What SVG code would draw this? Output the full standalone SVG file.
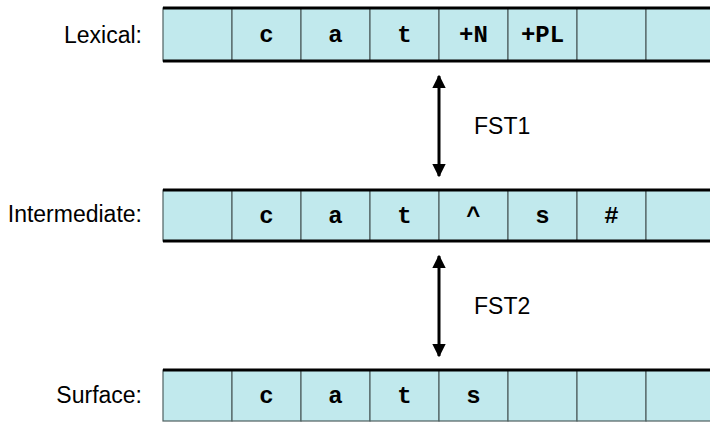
<svg xmlns="http://www.w3.org/2000/svg" width="710" height="423" viewBox="0 0 710 423">
<defs>
<style>
.cell{fill:#c1e9ed;stroke:#4f6060;stroke-width:1.2}
.rule{stroke:#000;stroke-width:3}
.sym{font-family:"Liberation Mono",monospace;font-weight:bold;font-size:24px;text-anchor:middle;fill:#000}
.lab{font-family:"Liberation Sans",Arial,sans-serif;font-size:23px;text-anchor:end;fill:#000}
.fst{font-family:"Liberation Sans",Arial,sans-serif;font-size:23px;fill:#000}
.conn{stroke:#000;stroke-width:3;fill:none}
</style>
<marker id="ah" viewBox="0 0 10 10" refX="9" refY="5" markerWidth="4.6" markerHeight="4.6" orient="auto-start-reverse" markerUnits="strokeWidth">
<path d="M0,0 L10,5 L0,10 z" fill="#000"/>
</marker>
</defs>
<g id="lexical">
<text class="lab" x="142" y="43">Lexical:</text>
<rect class="cell" x="163" y="8" width="69" height="53"/>
<rect class="cell" x="232" y="8" width="69" height="53"/>
<rect class="cell" x="301" y="8" width="69" height="53"/>
<rect class="cell" x="370" y="8" width="69" height="53"/>
<rect class="cell" x="439" y="8" width="69" height="53"/>
<rect class="cell" x="508" y="8" width="69" height="53"/>
<rect class="cell" x="577" y="8" width="69" height="53"/>
<rect class="cell" x="646" y="8" width="69" height="53"/>
<line class="rule" x1="163" y1="8" x2="712" y2="8"/>
<line class="rule" x1="163" y1="61" x2="712" y2="61"/>
<text class="sym" x="266.5" y="42">c</text>
<text class="sym" x="335.5" y="42">a</text>
<text class="sym" x="404.5" y="42">t</text>
<text class="sym" x="473.5" y="42">+N</text>
<text class="sym" x="542.5" y="42">+PL</text>
</g>
<g id="intermediate">
<text class="lab" x="142" y="222">Intermediate:</text>
<rect class="cell" x="163" y="190" width="69" height="51"/>
<rect class="cell" x="232" y="190" width="69" height="51"/>
<rect class="cell" x="301" y="190" width="69" height="51"/>
<rect class="cell" x="370" y="190" width="69" height="51"/>
<rect class="cell" x="439" y="190" width="69" height="51"/>
<rect class="cell" x="508" y="190" width="69" height="51"/>
<rect class="cell" x="577" y="190" width="69" height="51"/>
<rect class="cell" x="646" y="190" width="69" height="51"/>
<line class="rule" x1="163" y1="190" x2="712" y2="190"/>
<line class="rule" x1="163" y1="241" x2="712" y2="241"/>
<text class="sym" x="266.5" y="223">c</text>
<text class="sym" x="335.5" y="223">a</text>
<text class="sym" x="404.5" y="223">t</text>
<text class="sym" x="473.5" y="223">^</text>
<text class="sym" x="542.5" y="223">s</text>
<text class="sym" x="611.5" y="223">#</text>
</g>
<g id="surface">
<text class="lab" x="142" y="403">Surface:</text>
<rect class="cell" x="163" y="370" width="69" height="51"/>
<rect class="cell" x="232" y="370" width="69" height="51"/>
<rect class="cell" x="301" y="370" width="69" height="51"/>
<rect class="cell" x="370" y="370" width="69" height="51"/>
<rect class="cell" x="439" y="370" width="69" height="51"/>
<rect class="cell" x="508" y="370" width="69" height="51"/>
<rect class="cell" x="577" y="370" width="69" height="51"/>
<rect class="cell" x="646" y="370" width="69" height="51"/>
<line class="rule" x1="163" y1="370" x2="712" y2="370"/>
<text class="sym" x="266.5" y="403">c</text>
<text class="sym" x="335.5" y="403">a</text>
<text class="sym" x="404.5" y="403">t</text>
<text class="sym" x="473.5" y="403">s</text>
</g>
<g id="connectors">
<line class="conn" x1="439" y1="76" x2="439" y2="176" marker-start="url(#ah)" marker-end="url(#ah)"/>
<text class="fst" x="474" y="134">FST1</text>
<line class="conn" x1="439" y1="256" x2="439" y2="356" marker-start="url(#ah)" marker-end="url(#ah)"/>
<text class="fst" x="474" y="314">FST2</text>
</g>
</svg>
